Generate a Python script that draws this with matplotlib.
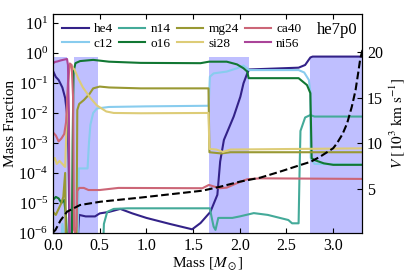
import numpy as np
import matplotlib
import matplotlib.pyplot as plt

matplotlib.use("Agg")

plt.rcParams["font.family"] = ["Liberation Serif", "DejaVu Serif"]
plt.rcParams["mathtext.fontset"] = "stix"
plt.rcParams["font.size"] = 11

# abundances, stored as log10(mass fraction); -7 = below the axis
he4_m = [0.0, 0.03, 0.06, 0.10, 0.13, 0.16, 0.18, 0.25, 0.28, 0.35, 0.45, 0.50, 0.60, 0.72,
         0.85, 1.0, 1.25, 1.49, 1.58, 1.685, 1.76, 1.79, 1.83, 1.935, 2.006, 2.04, 2.08, 2.1,
         2.63, 2.7, 2.756, 2.78, 3.32]
he4_l = [-0.6, -0.8, -0.9, -1.15, -1.5, -2.3, -7, -7, -5.4, -5.45, -5.45, -5.35, -5.3, -5.2,
         -5.35, -5.5, -5.7, -5.88, -5.67, -5.3, -4.73, -3.62, -2.9, -2.12, -1.46, -1.01, -0.68, -0.55,
         -0.49, -0.4, -0.15, -0.12, -0.12]

c12_m = [0.0, 0.08, 0.10, 0.13, 0.16, 0.26, 0.275, 0.37, 0.385, 0.40, 0.43, 0.47, 0.6, 1.0,
         1.667, 1.68, 1.72, 1.86, 1.97, 2.04, 2.1, 2.63, 2.69, 2.74, 2.756, 2.76, 2.8, 3.32]
c12_l = [-7, -7, -5.7, -6.2, -7, -7, -3.85, -3.85, -3.0, -2.4, -2.0, -1.85, -1.8, -1.78,
         -1.76, -0.79, -0.68, -0.62, -0.51, -0.42, -0.57, -0.57, -0.65, -0.9, -1.3, -3.5, -3.7, -3.72]

n14_m = [0.0, 0.53, 0.545, 0.58, 0.65, 0.8, 1.68, 1.70, 1.72, 1.74, 1.77, 1.92, 2.0, 2.15,
         2.3, 2.52, 2.56, 2.63, 2.64, 2.65, 2.7, 2.756, 2.8, 3.32]
n14_l = [-7, -7, -5.7, -5.3, -5.2, -5.18, -5.18, -5.5, -5.79, -5.9, -5.5, -5.5, -5.45, -5.34,
         -5.4, -5.57, -5.68, -5.68, -4.0, -2.6, -2.15, -2.07, -2.12, -2.12]

o16_m = [0.0, 0.03, 0.06, 0.09, 0.12, 0.14, 0.16, 0.20, 0.21, 0.22, 0.24, 0.29, 0.43, 0.6,
         0.94, 1.58, 1.67, 1.86, 1.97, 2.04, 2.08, 2.095, 2.63, 2.72, 2.756, 2.77, 2.8, 2.9, 3.0, 3.32]
o16_l = [-4.9, -4.8, -4.85, -5.0, -4.9, -5.5, -7, -7, -3.0, -0.62, -0.34, -0.27, -0.23, -0.29,
         -0.33, -0.34, -0.29, -0.29, -0.38, -0.51, -0.62, -0.84, -0.84, -1.07, -1.34, -3.51, -3.57,
         -3.68, -3.73, -3.73]

mg24_m = [0.0, 0.03, 0.06, 0.09, 0.11, 0.13, 0.14, 0.25, 0.26, 0.28, 0.33, 0.39, 0.43, 0.5,
          0.6, 0.94, 1.665, 1.675, 1.8, 1.9, 3.32]
mg24_l = [-5.3, -5.4, -5.2, -5.0, -4.8, -4.0, -7, -7, -1.9, -1.7, -1.57, -1.37, -1.18, -1.12,
          -1.15, -1.18, -1.18, -3.31, -3.35, -3.31, -3.31]

si28_m = [0.0, 0.02, 0.04, 0.07, 0.10, 0.13, 0.15, 0.17, 0.20, 0.23, 0.27, 0.32, 0.40, 0.47,
          0.57, 0.65, 0.94, 1.665, 1.675, 1.75, 1.82, 1.9, 3.32]
si28_l = [-3.6, -3.5, -3.7, -3.6, -3.7, -3.8, -2.0, -0.5, -0.45, -0.55, -0.85, -1.15, -1.5, -1.75,
          -1.95, -2.0, -2.01, -2.0, -3.2, -3.22, -3.3, -3.22, -3.18]

ca40_m = [0.0, 0.03, 0.06, 0.09, 0.12, 0.14, 0.16, 0.18, 0.20, 0.215, 0.225, 0.235, 0.25, 0.26,
          0.28, 0.33, 0.38, 0.5, 0.7, 1.6, 1.67, 1.72, 1.79, 1.86, 1.97, 2.08, 2.22, 3.32]
ca40_l = [-2.65, -2.75, -2.95, -2.85, -2.7, -2.3, -1.0, -0.35, -0.4, -1.5, -5.9, -6.0, -5.8, -4.6,
          -4.5, -4.5, -4.57, -4.57, -4.5, -4.51, -4.4, -4.45, -4.51, -4.49, -4.34, -4.21, -4.18, -4.2]

ni56_m = [0.0, 0.02, 0.05, 0.08, 0.12, 0.15, 0.16, 0.17, 0.18, 3.32]
ni56_l = [-0.35, -0.3, -0.28, -0.25, -0.22, -0.2, -0.4, -2.0, -7, -7]

# velocity profile [10^3 km/s]
vel_m = [0.0, 0.026, 0.08, 0.15, 0.29, 0.51, 0.94, 1.6, 1.79, 2.0, 2.22, 2.43, 2.65, 2.76,
         2.86, 3.0, 3.04, 3.1, 3.15, 3.2, 3.24, 3.27, 3.29, 3.32]
vel_v = [0.3, 0.57, 1.6, 2.56, 3.29, 3.65, 4.1, 4.85, 5.28, 5.83, 6.27, 6.92, 7.65, 8.0,
         8.55, 9.47, 10.0, 11.0, 12.2, 14.0, 15.8, 17.8, 19.2, 20.4]

span_lo = [0.0, 0.22, 1.675, 2.756]
span_hi = [0.15, 0.48, 2.095, 3.32]
span_top = 0.76

species = [
    ("he4", he4_m, he4_l, "#332288"),
    ("c12", c12_m, c12_l, "#88CCEE"),
    ("n14", n14_m, n14_l, "#44AA99"),
    ("o16", o16_m, o16_l, "#117733"),
    ("mg24", mg24_m, mg24_l, "#999933"),
    ("si28", si28_m, si28_l, "#DDCC77"),
    ("ca40", ca40_m, ca40_l, "#CC6677"),
    ("ni56", ni56_m, ni56_l, "#AA4499"),
]

fig = plt.figure(figsize=(4.11, 2.74), dpi=100)
ax = fig.add_axes([0.129, 0.15, 0.752, 0.799])

for lo, hi in zip(span_lo, span_hi):
    ax.fill_between([lo, hi], 1e-7, span_top, color="blue", alpha=0.25, lw=0, zorder=0)

for name, m, l, c in species:
    ax.plot(m, 10 ** np.array(l), color=c, lw=1.5, label=name)

ax.set_yscale("log")
ax.set_xlim(0, 3.31)
ax.set_ylim(1e-6, 20)
ax.set_xticks([0.0, 0.5, 1.0, 1.5, 2.0, 2.5, 3.0])
ax.set_yticks([1e-6, 1e-5, 1e-4, 1e-3, 1e-2, 1e-1, 1e0, 1e1])
ax.tick_params(direction="in", top=True, which="both", labelsize=11.5)
ax.tick_params(axis="y", which="minor", length=2)
ax.set_xlabel(r"Mass [$M_\odot$]", labelpad=1)
ax.set_ylabel("Mass Fraction", labelpad=1)

leg = ax.legend(loc="upper left", ncol=4, frameon=False, fontsize=9.5,
                handlelength=2.0, handletextpad=0.4, columnspacing=0.45,
                labelspacing=0.15, borderaxespad=0.3)
ax.text(0.985, 0.965, "he7p0", transform=ax.transAxes, ha="right", va="top", fontsize=12)

ax2 = ax.twinx()
ax2.plot(vel_m, vel_v, color="black", ls="--", lw=1.5)
ax2.set_ylim(0.25, 24.1)
ax2.set_yticks([5, 10, 15, 20])
ax2.tick_params(direction="in", labelsize=11.5)
ax2.set_ylabel(r"$V\ [10^3\ \mathrm{km\ s^{-1}}]$", labelpad=3)
ax2.set_xlim(0, 3.31)

fig.savefig("out.png", dpi=100)
